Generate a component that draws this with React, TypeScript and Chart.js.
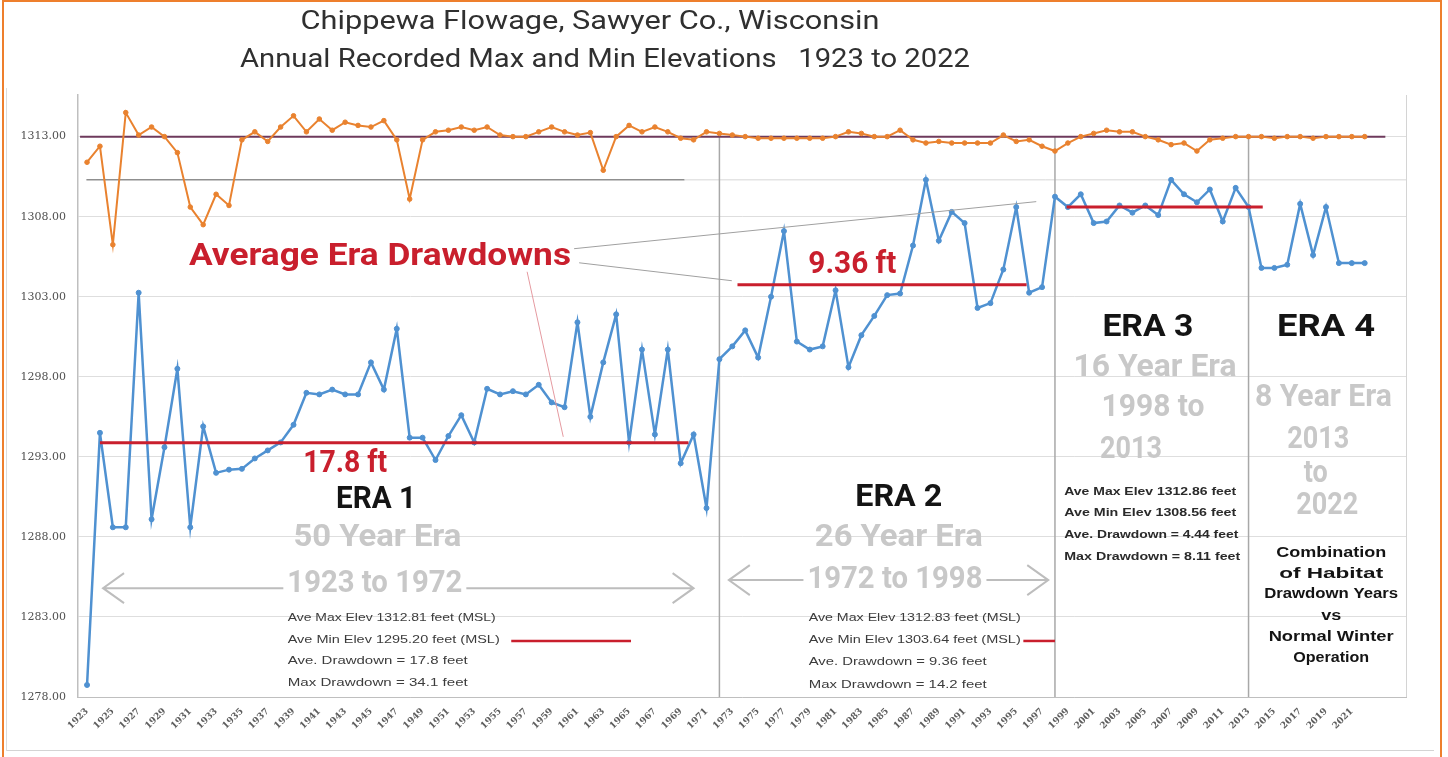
import React, { useEffect, useRef } from "react";
import { Chart, registerables } from "chart.js";
Chart.register(...registerables);

const years: number[] = Array.from({ length: 100 }, (_, i) => 1923 + i);

const minElev: number[] = [
  1278.75, 1294.5, 1288.6, 1288.6, 1303.25, 1289.1, 1293.6, 1298.5, 1288.6, 1294.9,
  1292.0, 1292.2, 1292.25, 1292.9, 1293.4, 1293.9, 1295.0, 1297.0, 1296.9, 1297.2,
  1296.9, 1296.9, 1298.9, 1297.2, 1301.0, 1294.2, 1294.2, 1292.8, 1294.3, 1295.6,
  1293.9, 1297.25, 1296.9, 1297.1, 1296.9, 1297.5, 1296.4, 1296.1, 1301.4, 1295.5,
  1298.9, 1301.9, 1293.9, 1299.7, 1294.4, 1299.7, 1292.6, 1294.4, 1289.8, 1299.1,
  1299.9, 1300.9, 1299.2, 1303.0, 1307.1, 1300.2, 1299.7, 1299.9, 1303.4, 1298.6,
  1300.6, 1301.8, 1303.1, 1303.2, 1306.2, 1310.3, 1306.5, 1308.3, 1307.6, 1302.3,
  1302.6, 1304.7, 1308.6, 1303.25, 1303.6, 1309.25, 1308.6, 1309.4, 1307.6, 1307.7,
  1308.7, 1308.25, 1308.7, 1308.1, 1310.3, 1309.4, 1308.9, 1309.7, 1307.7, 1309.8,
  1308.6, 1304.8, 1304.8, 1305.0, 1308.8, 1305.6, 1308.6, 1305.1, 1305.1, 1305.1,
];

const maxElev: number[] = [
  1311.4, 1312.4, 1306.25, 1314.5, 1313.1, 1313.6, 1313.0, 1312.0, 1308.6, 1307.5,
  1309.4, 1308.7, 1312.8, 1313.3, 1312.7, 1313.6, 1314.3, 1313.3, 1314.1, 1313.4,
  1313.9, 1313.7, 1313.6, 1314.0, 1312.8, 1309.1, 1312.8, 1313.3, 1313.4, 1313.6,
  1313.4, 1313.6, 1313.1, 1313.0, 1313.0, 1313.3, 1313.6, 1313.3, 1313.1, 1313.25,
  1310.9, 1313.0, 1313.7, 1313.3, 1313.6, 1313.3, 1312.9, 1312.8, 1313.3, 1313.2,
  1313.1, 1313.0, 1312.9, 1312.9, 1312.9, 1312.9, 1312.9, 1312.9, 1313.0, 1313.3,
  1313.2, 1313.0, 1313.0, 1313.4, 1312.8, 1312.6, 1312.7, 1312.6, 1312.6, 1312.6,
  1312.6, 1313.1, 1312.7, 1312.8, 1312.4, 1312.1, 1312.6, 1313.0, 1313.2, 1313.4,
  1313.3, 1313.3, 1313.0, 1312.8, 1312.5, 1312.6, 1312.1, 1312.8, 1312.9, 1313.0,
  1313.0, 1313.0, 1312.9, 1313.0, 1313.0, 1312.9, 1313.0, 1313.0, 1313.0, 1313.0,
];

const yTicks: number[] = [1278, 1283, 1288, 1293, 1298, 1303, 1308, 1313];
const xTickYears: number[] = years.filter((y) => (y - 1923) % 2 === 0);

const eraBoundaries: number[] = [1972, 1998, 2013];
const eraAvgMin: { from: number; to: number; value: number }[] = [
  { from: 1924, to: 1969.6, value: 1293.88 },
  { from: 1973.4, to: 1995.8, value: 1303.75 },
  { from: 1998.9, to: 2014.1, value: 1308.6 },
];
const avgMaxLevel = 1313.0;
const referenceLevel = 1310.3;

const RED = "#c91f2d";
const LIGHT = "#c8c8c8";
const BLACK = "#141414";
const BIG = "bold 32px Roboto";
const SMALL = "11px 'Liberation Sans'";
const SMALLB = "bold 10.5px 'Liberation Sans'";
const COMB = "bold 14px 'Liberation Sans'";

type Txt = { t: string; x: number; y: number; font: string; color: string; w: number; align?: CanvasTextAlign; bg?: boolean };

const texts: Txt[] = [
  { t: "Average Era Drawdowns", x: 1945.7, y: 1305.5, font: BIG, color: RED, w: 382 },
  { t: "17.8 ft", x: 1943.0, y: 1292.56, font: BIG, color: RED, w: 84 },
  { t: "9.36 ft", x: 1982.3, y: 1305.0, font: BIG, color: RED, w: 88 },
  { t: "ERA 1", x: 1945.4, y: 1290.3, font: BIG, color: BLACK, w: 80 },
  { t: "50 Year Era", x: 1945.5, y: 1287.94, font: BIG, color: LIGHT, w: 168 },
  { t: "1923 to 1972", x: 1945.3, y: 1285.06, font: BIG, color: LIGHT, w: 175, bg: true },
  { t: "ERA 2", x: 1985.9, y: 1290.4, font: BIG, color: BLACK, w: 87 },
  { t: "26 Year Era", x: 1985.9, y: 1287.94, font: BIG, color: LIGHT, w: 168 },
  { t: "1972 to 1998", x: 1985.6, y: 1285.3, font: BIG, color: LIGHT, w: 175, bg: true },
  { t: "ERA 3", x: 2005.2, y: 1301.06, font: BIG, color: BLACK, w: 91 },
  { t: "16 Year Era", x: 2005.75, y: 1298.56, font: BIG, color: LIGHT, w: 163 },
  { t: "1998 to", x: 2005.6, y: 1296.06, font: BIG, color: LIGHT, w: 103 },
  { t: "2013", x: 2003.9, y: 1293.4, font: BIG, color: LIGHT, w: 62 },
  { t: "ERA 4", x: 2019.0, y: 1301.06, font: BIG, color: BLACK, w: 98 },
  { t: "8 Year Era", x: 2018.8, y: 1296.7, font: BIG, color: LIGHT, w: 137 },
  { t: "2013", x: 2018.4, y: 1294.06, font: BIG, color: LIGHT, w: 62 },
  { t: "to", x: 2018.2, y: 1291.9, font: BIG, color: LIGHT, w: 24 },
  { t: "2022", x: 2019.1, y: 1289.9, font: BIG, color: LIGHT, w: 62 },
  { t: "Combination", x: 2019.4, y: 1287.0, font: COMB, color: BLACK, w: 110 },
  { t: "of Habitat", x: 2019.4, y: 1285.69, font: COMB, color: BLACK, w: 104 },
  { t: "Drawdown Years", x: 2019.4, y: 1284.4, font: COMB, color: BLACK, w: 134 },
  { t: "vs", x: 2019.4, y: 1283.06, font: COMB, color: BLACK, w: 20 },
  { t: "Normal Winter", x: 2019.4, y: 1281.75, font: COMB, color: BLACK, w: 125 },
  { t: "Operation", x: 2019.4, y: 1280.4, font: COMB, color: BLACK, w: 76 },
  { t: "Ave Max Elev 1312.81 feet (MSL)", x: 1938.55, y: 1282.94, font: SMALL, color: "#3c3c3c", w: 208, align: "left" },
  { t: "Ave Min Elev 1295.20 feet (MSL)", x: 1938.55, y: 1281.56, font: SMALL, color: "#3c3c3c", w: 212, align: "left" },
  { t: "Ave. Drawdown = 17.8 feet", x: 1938.55, y: 1280.25, font: SMALL, color: "#3c3c3c", w: 180, align: "left" },
  { t: "Max Drawdown = 34.1 feet", x: 1938.55, y: 1278.88, font: SMALL, color: "#3c3c3c", w: 180, align: "left" },
  { t: "Ave Max Elev 1312.83 feet (MSL)", x: 1978.92, y: 1282.94, font: SMALL, color: "#3c3c3c", w: 212, align: "left" },
  { t: "Ave Min Elev 1303.64 feet (MSL)", x: 1978.92, y: 1281.56, font: SMALL, color: "#3c3c3c", w: 212, align: "left" },
  { t: "Ave. Drawdown = 9.36 feet", x: 1978.92, y: 1280.19, font: SMALL, color: "#3c3c3c", w: 178, align: "left" },
  { t: "Max Drawdown = 14.2 feet", x: 1978.92, y: 1278.75, font: SMALL, color: "#3c3c3c", w: 178, align: "left" },
  { t: "Ave Max Elev 1312.86 feet", x: 1998.72, y: 1290.81, font: SMALLB, color: "#2a2a2a", w: 172, align: "left" },
  { t: "Ave Min Elev 1308.56 feet", x: 1998.72, y: 1289.5, font: SMALLB, color: "#2a2a2a", w: 172, align: "left" },
  { t: "Ave. Drawdown = 4.44 feet", x: 1998.72, y: 1288.13, font: SMALLB, color: "#2a2a2a", w: 174, align: "left" },
  { t: "Max Drawdown = 8.11 feet", x: 1998.72, y: 1286.75, font: SMALLB, color: "#2a2a2a", w: 176, align: "left" },
];

const arrows = [
  { x1: 1924.24, x2: 1970.0, y: 1284.8 },
  { x1: 1972.73, x2: 1997.48, y: 1285.3 },
];

const pointerLines = [
  { x1: 1960.74, y1: 1306.0, x2: 1996.55, y2: 1308.94, color: "#a0a0a0" },
  { x1: 1961.13, y1: 1305.12, x2: 1972.96, y2: 1304.0, color: "#a0a0a0" },
  { x1: 1957.1, y1: 1304.56, x2: 1959.9, y2: 1294.25, color: "#e59aa0" },
];

const noteRedLines = [
  { x1: 1955.87, x2: 1965.15, y: 1281.5 },
  { x1: 1995.55, x2: 1998.0, y: 1281.5 },
];

function drawText(ctx: CanvasRenderingContext2D, t: Txt, px: number, py: number) {
  ctx.save();
  ctx.font = t.font;
  const m = ctx.measureText(t.t).width;
  const sx = t.w / m;
  const align = t.align || "center";
  if (t.bg) {
    ctx.fillStyle = "#ffffff";
    const w = t.w + 8;
    const left = align === "center" ? px - w / 2 : px - 4;
    ctx.fillRect(left, py - 16, w, 32);
  }
  ctx.translate(px, py);
  ctx.scale(sx, 1);
  ctx.textAlign = align;
  ctx.textBaseline = "middle";
  ctx.fillStyle = t.color;
  ctx.fillText(t.t, 0, 0);
  ctx.restore();
}

const overlay = {
  id: "overlay",
  beforeDatasetsDraw(chart: any) {
    const { ctx, chartArea } = chart;
    const X = (v: number) => chart.scales.x.getPixelForValue(v);
    const Y = (v: number) => chart.scales.y.getPixelForValue(v);
    ctx.save();
    ctx.strokeStyle = "#d4d4d4";
    ctx.lineWidth = 1;
    ctx.beginPath();
    ctx.moveTo(chartArea.right + 0.5, chartArea.top);
    ctx.lineTo(chartArea.right + 0.5, chartArea.bottom);
    ctx.stroke();
    ctx.strokeStyle = "#8f8f8f";
    ctx.lineWidth = 1.5;
    ctx.beginPath();
    ctx.moveTo(X(1922.95), Y(referenceLevel));
    ctx.lineTo(X(1969.3), Y(referenceLevel));
    ctx.stroke();
    ctx.strokeStyle = "#d6d6d6";
    ctx.lineWidth = 1;
    ctx.beginPath();
    ctx.moveTo(X(1969.3), Y(referenceLevel));
    ctx.lineTo(chartArea.right, Y(referenceLevel));
    ctx.stroke();
    ctx.strokeStyle = "#a8a8a8";
    ctx.lineWidth = 1.5;
    eraBoundaries.forEach((yr) => {
      ctx.beginPath();
      ctx.moveTo(X(yr), Y(avgMaxLevel));
      ctx.lineTo(X(yr), chartArea.bottom);
      ctx.stroke();
    });
    ctx.strokeStyle = "#6e3a5c";
    ctx.lineWidth = 2;
    ctx.beginPath();
    ctx.moveTo(X(1922.46), Y(avgMaxLevel));
    ctx.lineTo(X(2023.6), Y(avgMaxLevel));
    ctx.stroke();
    ctx.restore();
  },
  afterDatasetsDraw(chart: any) {
    const { ctx } = chart;
    const X = (v: number) => chart.scales.x.getPixelForValue(v);
    const Y = (v: number) => chart.scales.y.getPixelForValue(v);
    ctx.save();
    pointerLines.forEach((l) => {
      ctx.strokeStyle = l.color;
      ctx.lineWidth = 1;
      ctx.beginPath();
      ctx.moveTo(X(l.x1), Y(l.y1));
      ctx.lineTo(X(l.x2), Y(l.y2));
      ctx.stroke();
    });
    ctx.strokeStyle = RED;
    ctx.lineWidth = 3;
    eraAvgMin.forEach((e) => {
      ctx.beginPath();
      ctx.moveTo(X(e.from), Y(e.value));
      ctx.lineTo(X(e.to), Y(e.value));
      ctx.stroke();
    });
    ctx.lineWidth = 2.5;
    noteRedLines.forEach((l) => {
      ctx.beginPath();
      ctx.moveTo(X(l.x1), Y(l.y));
      ctx.lineTo(X(l.x2), Y(l.y));
      ctx.stroke();
    });
    ctx.strokeStyle = "#bdbdbd";
    ctx.lineWidth = 2;
    arrows.forEach((a) => {
      const x1 = X(a.x1), x2 = X(a.x2), y = Y(a.y);
      ctx.beginPath();
      ctx.moveTo(x1, y);
      ctx.lineTo(x2, y);
      ctx.moveTo(x1 + 21, y - 15);
      ctx.lineTo(x1, y);
      ctx.lineTo(x1 + 21, y + 15);
      ctx.moveTo(x2 - 21, y - 15);
      ctx.lineTo(x2, y);
      ctx.lineTo(x2 - 21, y + 15);
      ctx.stroke();
    });
    ctx.restore();
    texts.forEach((t) => drawText(ctx, t, X(t.x), Y(t.y)));
    drawText(ctx, { t: "Chippewa Flowage, Sawyer Co., Wisconsin", x: 0, y: 0, font: "400 25px Roboto", color: "#303030", w: 579 }, 590, 23);
    drawText(ctx, { t: "Annual Recorded Max and Min Elevations   1923 to 2022", x: 0, y: 0, font: "400 25px Roboto", color: "#303030", w: 730 }, 605, 61);
  },
};

export default function App() {
  const ref = useRef<HTMLCanvasElement | null>(null);
  useEffect(() => {
    if (!ref.current) return;
    const chart = new Chart(ref.current, {
      type: "line",
      data: {
        datasets: [
          {
            label: "Max",
            data: years.map((yr, i) => ({ x: yr, y: maxElev[i] })),
            borderColor: "#e9822f",
            backgroundColor: "#e9822f",
            borderWidth: 2,
            pointRadius: 2.3,
            pointBorderWidth: 1,
            tension: 0,
          },
          {
            label: "Min",
            data: years.map((yr, i) => ({ x: yr, y: minElev[i] })),
            borderColor: "#4f91d1",
            backgroundColor: "#4f91d1",
            borderWidth: 2.5,
            pointRadius: 2.5,
            pointBorderWidth: 1,
            tension: 0,
          },
        ],
      },
      options: {
        animation: false,
        responsive: false,
        devicePixelRatio: 1,
        layout: { padding: { top: 95, right: 42, left: 0, bottom: 0 } },
        plugins: { legend: { display: false }, title: { display: false }, tooltip: { enabled: false } },
        scales: {
          x: {
            type: "linear",
            min: 1922.3,
            max: 2025.2,
            afterBuildTicks: (s: any) => {
              s.ticks = xTickYears.map((v) => ({ value: v }));
            },
            afterFit: (s: any) => {
              s.height = 60;
            },
            ticks: {
              autoSkip: false,
              maxRotation: 45,
              minRotation: 45,
              padding: 9,
              color: "#5e5e5e",
              font: { family: "DejaVu Serif", size: 9, weight: "bold" },
              callback: (v: any) => String(v),
            },
            grid: { display: false, drawTicks: false },
            border: { display: true, color: "#bfbfbf", width: 1 },
          },
          y: {
            type: "linear",
            min: 1278,
            max: 1315.6,
            afterBuildTicks: (s: any) => {
              s.ticks = yTicks.map((v) => ({ value: v }));
            },
            afterFit: (s: any) => {
              s.width = 78;
            },
            ticks: {
              color: "#505050",
              font: { family: "DejaVu Serif", size: 11 },
              padding: 12,
              callback: (v: any) => Number(v).toFixed(2),
            },
            grid: { color: "#dedede", drawTicks: false },
            border: { display: true, color: "#bfbfbf", width: 1.5 },
          },
        },
      },
      plugins: [overlay],
    } as any);
    return () => chart.destroy();
  }, []);
  return (
    <div style={{ position: "fixed", left: 0, top: 0, width: 1448, height: 757, background: "#fff", overflow: "hidden" }}>
      <canvas ref={ref} width={1448} height={757} style={{ position: "absolute", left: 0, top: 0, width: 1448, height: 757 }} />
      <div style={{ position: "absolute", left: 2, top: 0, width: 2, height: 757, background: "#ee7f2d" }} />
      <div style={{ position: "absolute", left: 1440, top: 0, width: 2, height: 757, background: "#ee7f2d" }} />
      <div style={{ position: "absolute", left: 2, top: 0, width: 1440, height: 2, background: "#ee7f2d" }} />
      <div style={{ position: "absolute", left: 6, top: 750, width: 1428, height: 1, background: "#d4d4d4" }} />
      <div style={{ position: "absolute", left: 6, top: 88, width: 1, height: 663, background: "#dcdcdc" }} />
    </div>
  );
}
